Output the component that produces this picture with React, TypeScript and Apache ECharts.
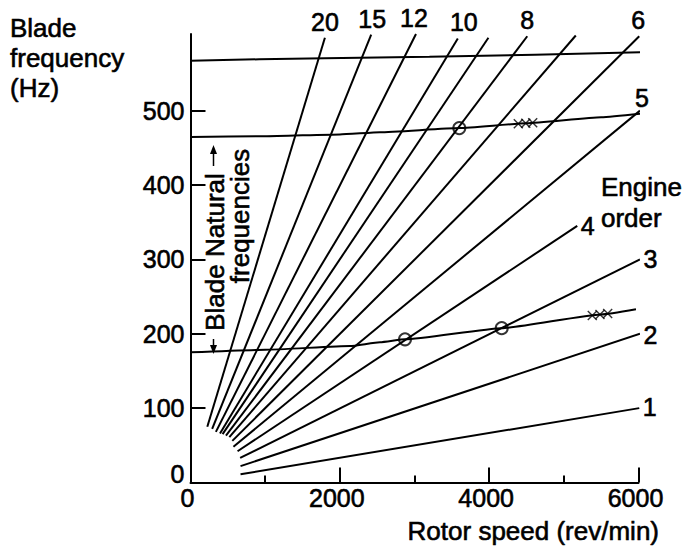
import React, { useEffect, useRef } from 'react';
import * as echarts from 'echarts';

// ---- Data ----
// Engine order lines (start and end points, rpm / Hz)
const orderNames = ['20', '15', '12', '10', '9', '8', '7', '6', '5', '4', '3', '2', '1'];
const orderLabels = ['20', '15', '12', '10', '', '8', '', '6', '5', '4', '3', '2', '1'];
const startRpm = [225, 290, 340, 395, 430, 475, 520, 560, 575, 630, 665, 670, 670];
const startHz = [75, 72, 68, 66, 65, 63, 61, 56, 48, 42, 33, 22, 11];
const endRpm = [1800, 2420, 3020, 3580, 3990, 4510, 5160, 6010, 6020, 5180, 6020, 6020, 6010];
const endHz = [598, 602, 603, 597, 598, 600, 601, 600, 500, 345, 300, 200, 100];

// Blade natural frequency curves
const mode1Rpm = [0, 1000, 2136, 2538, 2873, 4168, 5500, 5966];
const mode1Hz = [175, 178.5, 183.5, 188.5, 192.5, 207.5, 226, 233];
const mode2Rpm = [0, 1000, 2000, 2538, 3600, 4500, 5500, 6280];
const mode2Hz = [464.5, 465.5, 468, 471, 476.5, 483, 491, 498.5];
const mode3Rpm = [0, 1800, 3200, 6090];
const mode3Hz = [567, 570.5, 572.5, 578.5];

// Resonance markers
const circleRpm = [2873, 4168, 3600];
const circleHz = [192.5, 207.5, 476.5];
const crossRpm = [4390, 4490, 4583, 5381, 5484, 5587];
const crossHz = [482.5, 483, 483.7, 224.5, 226, 227.3];

// Axis ticks
const yLabelValues = [0, 100, 200, 300, 400, 500];
const yTickValues = [100, 200, 300, 400, 500];

// ---- label placement styles (not data) ----
const labelPos = ['top', 'top', 'top', 'top', 'top', 'top', 'top', 'top', 'top', 'right', 'right', 'right', 'right'];
const labelOffsets = [[0, 0], [1, 0], [-2, 0], [6, 0], [0, 0], [0, 0], [0, 0], [-1, 0], [2, 3], [0, 0], [0, 0], [0, 1], [0, -1]];

const FONT = "'Liberation Sans', Arial, Helvetica, sans-serif";
const BLACK = '#000';
const BOLDEN = { textBorderColor: BLACK, textBorderWidth: 0.6 };

const CROSS = 'path://M0,1 L1,0 L5,4 L9,0 L10,1 L6,5 L10,9 L9,10 L5,6 L1,10 L0,9 L4,5 Z';

export default function App() {
  const ref = useRef<HTMLDivElement>(null);

  useEffect(() => {
    if (!ref.current) return;
    const chart = echarts.init(ref.current, null, { renderer: 'svg' });

    const orderSeries = orderNames.map((name, i) => ({
      type: 'line',
      name: 'Order ' + name,
      clip: false,
      symbol: 'none',
      silent: true,
      lineStyle: { color: BLACK, width: 2 },
      data: [
        [startRpm[i], startHz[i]],
        [endRpm[i], endHz[i]],
      ],
      z: 2,
    }));

    const modeSeries = [
      [mode1Rpm, mode1Hz],
      [mode2Rpm, mode2Hz],
      [mode3Rpm, mode3Hz],
    ].map(([r, h], k) => ({
      type: 'line',
      name: 'Mode ' + (k + 1),
      clip: false,
      symbol: 'none',
      silent: true,
      smooth: 0.15,
      smoothMonotone: 'x',
      lineStyle: { color: BLACK, width: 2 },
      data: r.map((v, j) => [v, h[j]]),
      z: 2,
    }));

    const labelSeries = {
      type: 'scatter',
      name: 'labels',
      clip: false,
      silent: true,
      symbolSize: 1,
      itemStyle: { color: '#fff', opacity: 1 },
      data: orderNames.map((_, i) => ({
        value: [endRpm[i], endHz[i]],
        label: {
          show: orderLabels[i] !== '',
          formatter: orderLabels[i],
          position: labelPos[i],
          distance: 3,
          offset: labelOffsets[i],
          color: BLACK,
          fontSize: 25,
          fontFamily: FONT,
          ...BOLDEN,
        },
      })),
      z: 1,
    };

    const circleSeries = {
      type: 'scatter',
      name: 'resonance',
      clip: false,
      silent: true,
      symbol: 'circle',
      symbolSize: 12,
      itemStyle: { color: 'rgba(0,0,0,0)', borderColor: BLACK, borderWidth: 2 },
      data: circleRpm.map((r, i) => [r, circleHz[i]]),
      z: 4,
    };

    const crossSeries = {
      type: 'scatter',
      name: 'measured',
      clip: false,
      silent: true,
      symbol: CROSS,
      symbolSize: 10,
      itemStyle: { color: BLACK },
      data: crossRpm.map((r, i) => [r, crossHz[i]]),
      z: 4,
    };

    const textStyle = (text: string, fs = 26) => ({
      text,
      fill: BLACK,
      stroke: BLACK,
      lineWidth: 0.6,
      font: `${fs}px ${FONT}`,
    });

    chart.setOption({
      animation: false,
      backgroundColor: '#fff',
      grid: { left: 190.5, right: 44.5, top: 34, bottom: 64.5, containLabel: false },
      xAxis: {
        type: 'value',
        min: 0,
        max: 6000,
        interval: 2000,
        axisLine: { show: true, lineStyle: { color: BLACK, width: 2 } },
        axisTick: { show: true, inside: true, length: 15, lineStyle: { color: BLACK, width: 2 } },
        minorTick: { show: true, splitNumber: 2, length: 7, lineStyle: { color: BLACK, width: 2 } },
        axisLabel: {
          color: BLACK,
          fontSize: 25,
          fontFamily: FONT,
          margin: 3,
          padding: [0, 6, 0, 0],
          formatter: (v: number) => String(v),
          ...BOLDEN,
        },
        splitLine: { show: false },
        minorSplitLine: { show: false },
      },
      yAxis: {
        type: 'value',
        min: 0,
        max: 603,
        axisLine: { show: true, lineStyle: { color: BLACK, width: 2 } },
        axisTick: { show: true, inside: true, length: 15, customValues: yTickValues, lineStyle: { color: BLACK, width: 2 } },
        axisLabel: {
          customValues: yLabelValues,
          color: BLACK,
          fontSize: 25,
          fontFamily: FONT,
          margin: 6,
          ...BOLDEN,
          formatter: (v: number) => (v === 0 ? '{z|0}' : String(v)),
          rich: { z: { fontSize: 25, fontFamily: FONT, color: BLACK, padding: [0, 0, 18, 0], ...BOLDEN } },
        },
        splitLine: { show: false },
      },
      graphic: [
        { type: 'text', x: 10, y: 28, style: { ...textStyle('Blade'), align: 'left', verticalAlign: 'middle' } },
        { type: 'text', x: 10, y: 58, style: { ...textStyle('frequency'), align: 'left', verticalAlign: 'middle' } },
        { type: 'text', x: 10, y: 88, style: { ...textStyle('(Hz)'), align: 'left', verticalAlign: 'middle' } },
        { type: 'text', x: 601, y: 187, style: { ...textStyle('Engine'), align: 'left', verticalAlign: 'middle' } },
        { type: 'text', x: 601, y: 218, style: { ...textStyle('order'), align: 'left', verticalAlign: 'middle' } },
        { type: 'text', x: 659, y: 531, style: { ...textStyle('Rotor speed (rev/min)'), align: 'right', verticalAlign: 'middle' } },
        { type: 'text', x: 215, y: 252, rotation: Math.PI / 2, style: { ...textStyle('Blade Natural'), align: 'center', verticalAlign: 'middle' } },
        { type: 'text', x: 240, y: 216, rotation: Math.PI / 2, style: { ...textStyle('frequencies'), align: 'center', verticalAlign: 'middle' } },
        // arrows pointing to the natural-frequency curves
        { type: 'line', shape: { x1: 213.5, y1: 166, x2: 213.5, y2: 152 }, style: { stroke: BLACK, lineWidth: 1.5 } },
        { type: 'polygon', shape: { points: [[213.5, 145], [210, 154], [217, 154]] }, style: { fill: BLACK } },
        { type: 'line', shape: { x1: 213.5, y1: 339, x2: 213.5, y2: 347 }, style: { stroke: BLACK, lineWidth: 1.5 } },
        { type: 'polygon', shape: { points: [[213.5, 354], [210, 345], [217, 345]] }, style: { fill: BLACK } },
      ],
      series: [...modeSeries, ...orderSeries, labelSeries, circleSeries, crossSeries],
    });

    return () => chart.dispose();
  }, []);

  return (
    <div
      ref={ref}
      style={{ position: 'fixed', left: 0, top: 0, width: 683, height: 547, background: '#fff' }}
    />
  );
}
